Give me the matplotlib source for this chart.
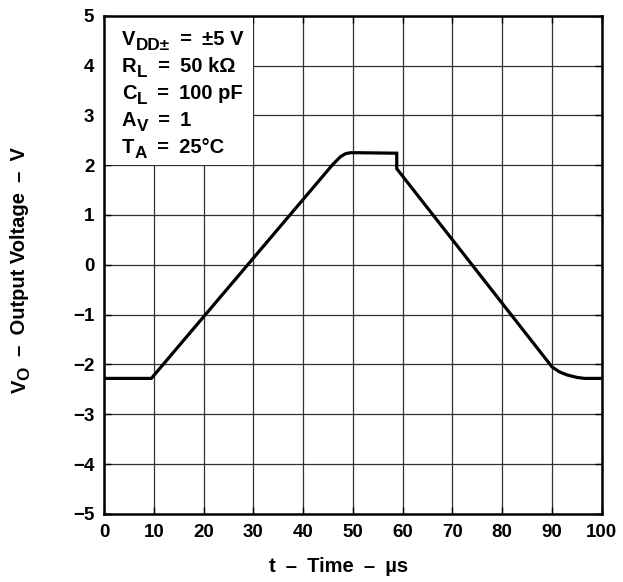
import matplotlib
matplotlib.use("Agg")
import matplotlib.pyplot as plt
from matplotlib.patches import Rectangle

plt.rcParams["font.family"] = ["Liberation Sans", "DejaVu Sans"]
plt.rcParams["font.weight"] = "bold"

# 输出电压波形
t_us = [0, 9.5, 46.0, 47.5, 48.5, 49.5, 51.0, 58.8, 58.8, 90.0, 91.5, 93.0, 95.0, 96.5, 100]
vo = [-2.28, -2.28, 2.02, 2.17, 2.23, 2.25, 2.25, 2.24, 1.93, -2.05, -2.15, -2.21, -2.26, -2.28, -2.28]

xticks = list(range(0, 101, 10))
yticks = list(range(-5, 6))
SP = "\u2002"  # en space
# 条件：主字母、下标、其余
cond = [("V", "DD±", f"{SP}={SP}±5 V"),
        ("R", "L", f"{SP}={SP}50 kΩ"),
        ("C", "L", f"{SP}={SP}100 pF"),
        ("A", "V", f"{SP}={SP}1"),
        ("T", "A", f"{SP}={SP}25°C")]
FS = 13.5
FS_BOX = 14.5
FS_LAB = 14.5


def sub_text(ax, x, y, main, sub, rest, fs):
    m = ax.text(x, y, main, fontsize=fs, fontweight="bold", ha="left",
                va="baseline", zorder=5)
    s = ax.annotate(sub, xy=(1, 0), xycoords=m, xytext=(0.5, -4.5),
                    textcoords="offset pixels", fontsize=fs * 0.85,
                    fontweight="bold", ha="left", va="bottom", zorder=5)
    ax.annotate(rest, xy=(1, 0), xycoords=(s, m), fontsize=fs,
                fontweight="bold", ha="left", va="bottom", zorder=5)


fig = plt.figure(figsize=(6.23, 5.82), dpi=100)
ax = fig.add_axes([0.167, 0.117, 0.799, 0.856])
ax.plot(t_us, vo, color="black", lw=2.3, solid_joinstyle="miter", zorder=4)
ax.set_xlim(0, 100)
ax.set_ylim(-5, 5)
ax.set_xticks(xticks)
ax.set_yticks(yticks)
ax.set_yticklabels([str(v).replace("-", "−") for v in yticks])
ax.grid(True, color="#303030", lw=0.9, zorder=1)
ax.set_axisbelow(True)
ax.tick_params(direction="in", length=5, width=1, top=True, right=True,
               labelsize=FS, pad=7)
for s in ax.spines.values():
    s.set_linewidth(1.8)
# 条件框遮住网格
ax.add_patch(Rectangle((0, 2), 30, 3, facecolor="white", edgecolor="none", zorder=2))
for i, (a, b, c) in enumerate(cond):
    sub_text(ax, 3.6, 4.42 - i * 0.543, a, b, c, FS_BOX)

ax.set_xlabel(f"t{SP}–{SP}Time{SP}–{SP}µs", fontsize=FS_LAB, fontweight="bold")
ax.xaxis.set_label_coords(0.471, -0.086)

# 纵轴标题（带下标，竖排）
v = fig.text(20 / 623, 1 - 393 / 582, "V", fontsize=FS_LAB, fontweight="bold",
             rotation=90, ha="center", va="bottom")
o = ax.annotate("O", xy=(0.5, 1), xycoords=v, xytext=(4.5, 0),
                textcoords="offset pixels", fontsize=FS_LAB * 0.85,
                fontweight="bold", rotation=90, ha="center", va="bottom")
ax.annotate(f"{SP}–{SP}Output Voltage{SP}–{SP}V", xy=(0.5, 1), xycoords=(v, o),
            fontsize=FS_LAB, fontweight="bold", rotation=90, ha="center",
            va="bottom", annotation_clip=False)
fig.savefig("out.png", dpi=100)
